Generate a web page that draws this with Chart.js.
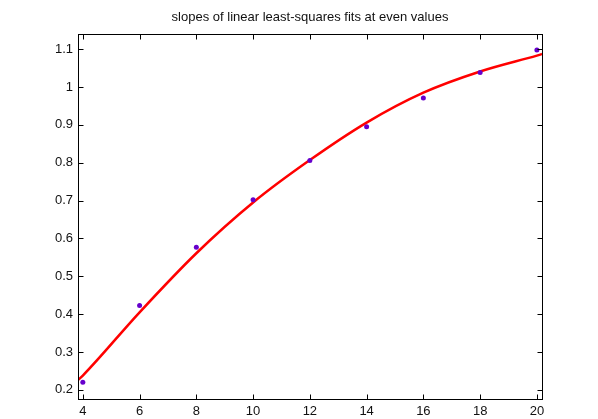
<!DOCTYPE html>
<html lang="en">
<head>
    <meta charset="UTF-8">
    <title>slopes of linear least-squares fits</title>
    <script src="https://cdn.jsdelivr.net/npm/chart.js"></script>
    <style>
        body { margin: 0; background: #fff; }
        #wrap { width: 598px; height: 419px; }
    </style>
</head>
<body>
    <div id="wrap"><canvas id="slopesChart" width="598" height="419"></canvas></div>
<script>
    // measured slopes at the even values
    var pointX = [4, 6, 8, 10, 12, 14, 16, 18, 20]
    var pointY = [0.220, 0.423, 0.577, 0.702, 0.806, 0.895, 0.971, 1.038, 1.098]

    // red fitted curve
    var curveX = [3.83, 4, 6, 8, 10, 12, 14, 16, 18, 20, 20.18]
    var curveY = [0.226, 0.238, 0.405, 0.561, 0.695, 0.807, 0.906, 0.985, 1.041, 1.083, 1.087]

    var xTicks = [4, 6, 8, 10, 12, 14, 16, 18, 20]
    var yTicks = [0.2, 0.3, 0.4, 0.5, 0.6, 0.7, 0.8, 0.9, 1, 1.1]

    var fnt = 'Liberation Sans, Arial, sans-serif'

    function pares(xs, ys) {
        var out = []
        for (var i = 0; i < xs.length; i++) out.push({ x: xs[i], y: ys[i] })
        return out
    }

    // matlab style box with inward ticks on all four sides
    var caixa = {
        id: 'caixa',
        beforeDraw: function (chart) {
            var c = chart.ctx
            c.save()
            c.fillStyle = '#fff'
            c.fillRect(0, 0, chart.width, chart.height)
            c.restore()
        },
        afterDraw: function (chart) {
            var c = chart.ctx, a = chart.chartArea
            var sx = chart.scales.x, sy = chart.scales.y
            var L = Math.round(a.left) + 0.5, R = Math.round(a.right) + 0.5
            var T = Math.round(a.top) + 0.5, B = Math.round(a.bottom) + 0.5
            c.save()
            c.strokeStyle = '#000'
            c.lineWidth = 1
            c.strokeRect(L, T, R - L, B - T)
            c.beginPath()
            xTicks.forEach(function (v) {
                var px = Math.round(sx.getPixelForValue(v)) + 0.5
                c.moveTo(px, B); c.lineTo(px, B - 5)
                c.moveTo(px, T); c.lineTo(px, T + 5)
            })
            yTicks.forEach(function (v) {
                var py = Math.round(sy.getPixelForValue(v)) + 0.5
                c.moveTo(L, py); c.lineTo(L + 5, py)
                c.moveTo(R, py); c.lineTo(R - 5, py)
            })
            c.stroke()
            c.restore()
        }
    }

    new Chart(document.getElementById('slopesChart'), {
        type: 'scatter',
        data: {
            datasets: [{
                label: 'fit',
                type: 'line',
                data: pares(curveX, curveY),
                borderColor: 'rgb(255, 0, 0)',
                borderWidth: 2.5,
                pointRadius: 0,
                cubicInterpolationMode: 'monotone',
                fill: false,
                order: 2
            }, {
                label: 'slopes',
                data: pares(pointX, pointY),
                backgroundColor: 'rgb(102, 0, 204)',
                borderColor: 'rgb(102, 0, 204)',
                pointRadius: 2.5,
                borderWidth: 0,
                order: 1
            }]
        },
        options: {
            responsive: false,
            animation: false,
            layout: { padding: { left: 0, right: 56, top: 0, bottom: 0 } },
            scales: {
                x: {
                    type: 'linear',
                    min: 3.83,
                    max: 20.18,
                    afterBuildTicks: function (s) { s.ticks = xTicks.map(function (v) { return { value: v } }) },
                    afterFit: function (s) { s.height = 20 },
                    grid: { display: false, drawTicks: false },
                    border: { display: false },
                    ticks: { color: '#111', padding: 5, font: { family: fnt, size: 13 } }
                },
                y: {
                    min: 0.176,
                    max: 1.140,
                    afterBuildTicks: function (s) { s.ticks = yTicks.map(function (v) { return { value: v } }) },
                    afterFit: function (s) { s.width = 78 },
                    grid: { display: false, drawTicks: false },
                    border: { display: false },
                    ticks: {
                        color: '#111', padding: 5, font: { family: fnt, size: 13 },
                        callback: function (v) { return String(v) }
                    }
                }
            },
            plugins: {
                legend: { display: false },
                tooltip: { enabled: false },
                title: {
                    display: true,
                    fullSize: false,
                    text: 'slopes of linear least-squares fits at even values',
                    color: '#111',
                    font: { family: fnt, size: 13, weight: 'normal' },
                    padding: { top: 10, bottom: 8.4 }
                }
            }
        },
        plugins: [caixa]
    });
</script>
</body>
</html>
